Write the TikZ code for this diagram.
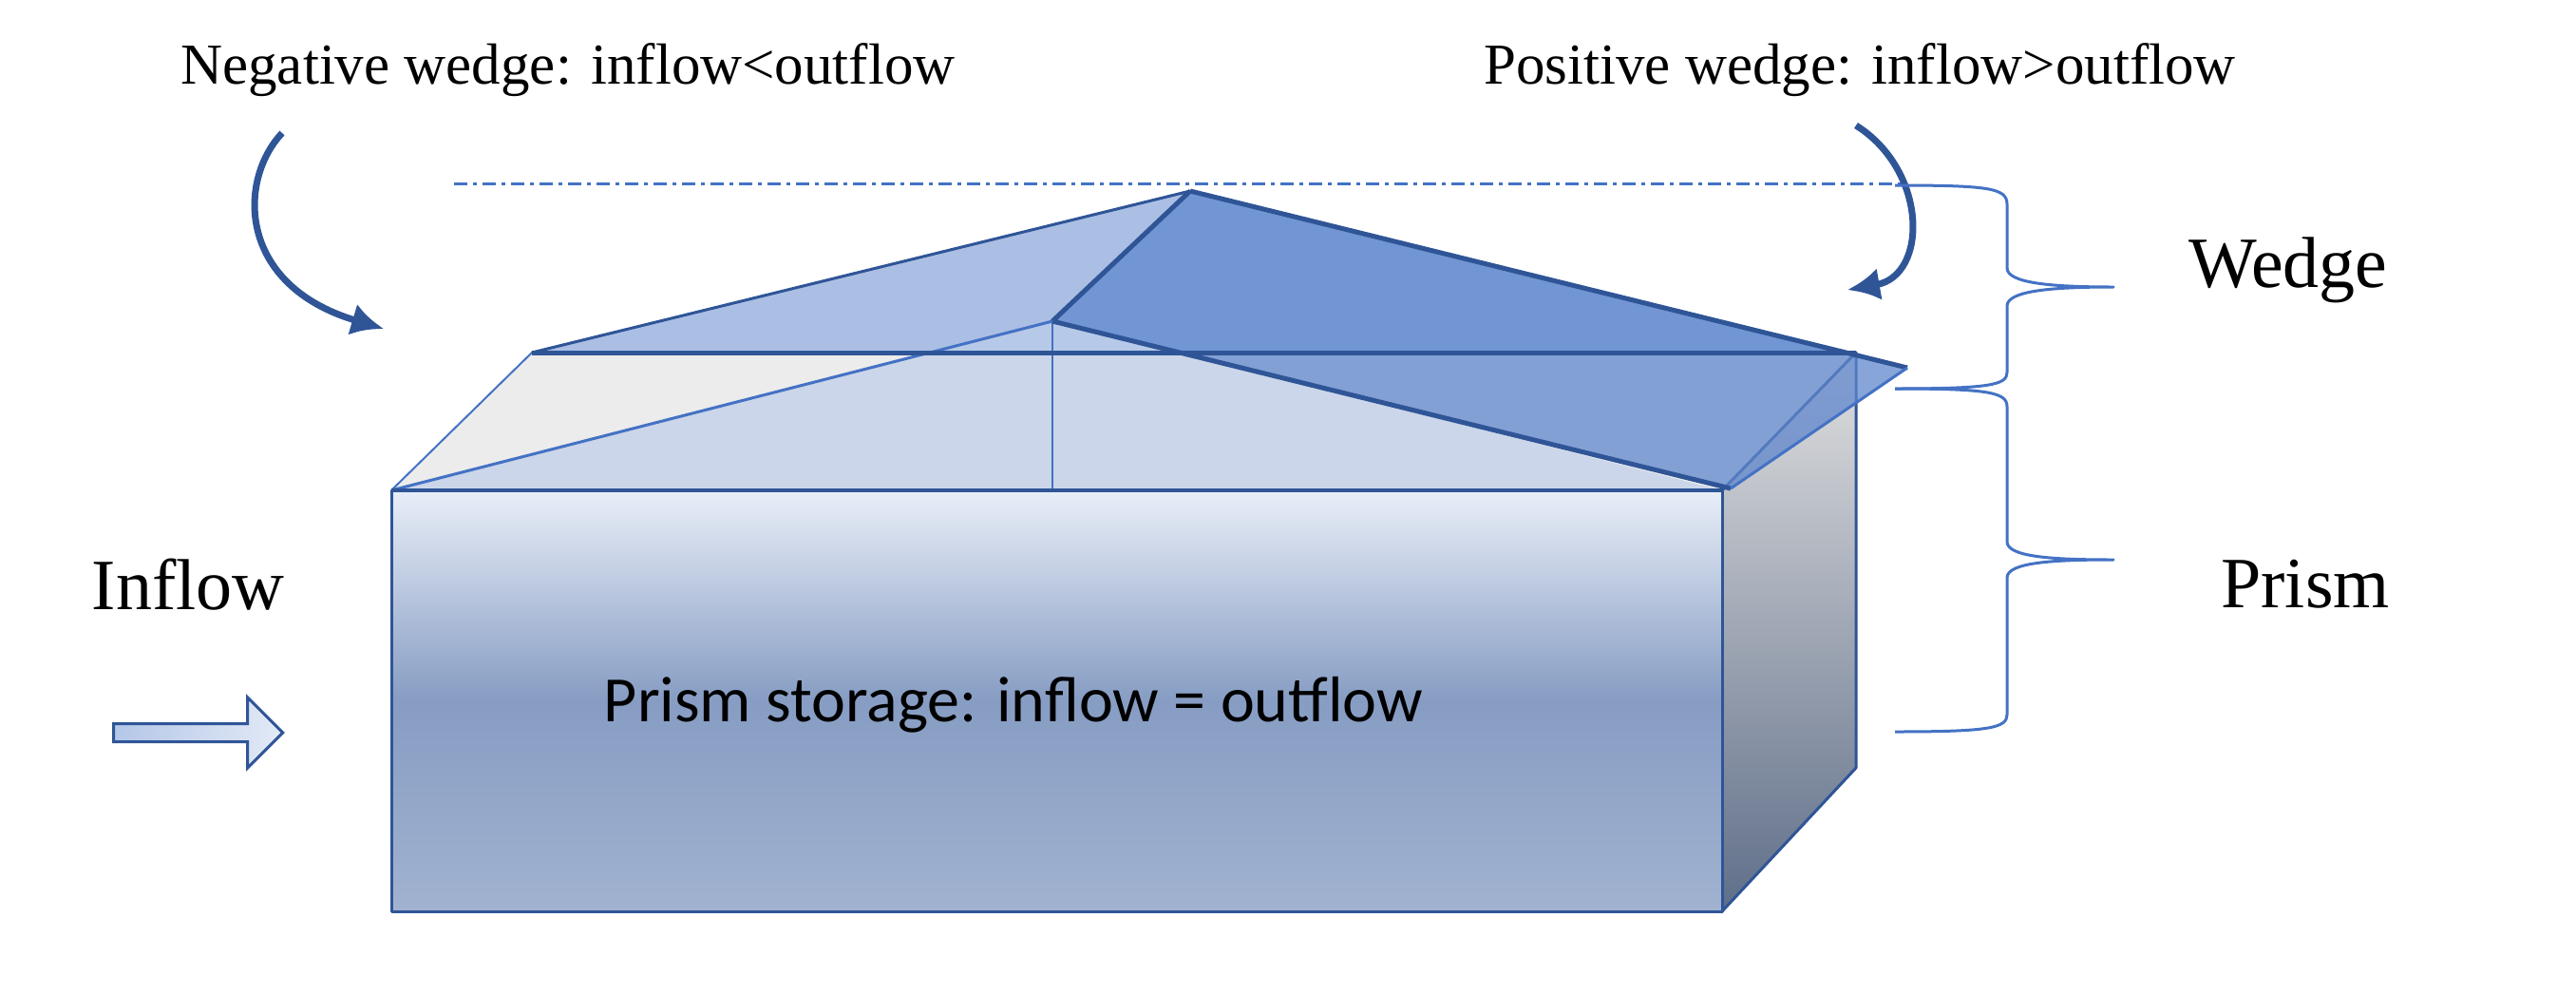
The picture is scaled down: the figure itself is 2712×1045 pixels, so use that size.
\documentclass[tikz,border=0pt]{standalone}
\usepackage{fontspec}
\setmainfont{Liberation Serif}
\newfontfamily\labelsans{Carlito}
\usetikzlibrary{shapes.arrows, arrows.meta}
\definecolor{edgeblue}{HTML}{2F5597}
\definecolor{lineblue}{HTML}{4472C4}
\begin{document}
\begin{tikzpicture}[x=1pt, y=-1pt,
  edge/.style={draw=edgeblue, line width=5pt, line join=round},
  thin/.style={draw=lineblue, line width=2pt},
  txt/.style={font=\fontsize{61}{65}\selectfont, inner sep=0pt},
  big/.style={font=\fontsize{76}{80}\selectfont, inner sep=0pt},
  turn/.style={draw=edgeblue, line width=7pt, -{Latex[length=34pt, width=34pt]}},
  brc/.style={draw=lineblue, line width=3pt, line join=round}]
  \useasboundingbox (0,0) rectangle (2712,1045);
  % corners of the prism
  \coordinate (fl) at (412,516);
  \coordinate (fr) at (1813,516);
  \coordinate (bl) at (560,371);
  \coordinate (br) at (1954,371);
  \coordinate (flb) at (412,959);
  \coordinate (frb) at (1813,959);
  \coordinate (brb) at (1954,808);
  % wedge points
  \coordinate (apex) at (1253,201);
  \coordinate (ridge) at (1108,338);
  \coordinate (tipr) at (2008,387);
  \coordinate (tipb) at (1822,514);
  % faces of the prism
  \shade[top color=white!88!lineblue, bottom color=white!55!edgeblue, middle color=white!42!edgeblue]
    (fl) rectangle (frb);
  \shade[top color=gray!25, bottom color=gray!60!edgeblue] (fr) -- (br) -- (brb) -- (frb) -- cycle;
  \fill[gray!15] (fl) -- (bl) -- (br) -- (fr) -- cycle;
  \draw[edge, line width=3pt] (fl) -- (fr) -- (frb) -- (flb) -- cycle;
  \draw[edge, line width=3pt] (fr) -- (br) -- (brb) -- (frb);
  \draw[thin] (fl) -- (bl) -- (br);
  % wedge
  \fill[lineblue!60, opacity=.75] (bl) -- (apex) -- (br) -- cycle;
  \fill[lineblue!35, opacity=.7] (fl) -- (ridge) -- (fr) -- cycle;
  \draw[thin] (ridge) -- (ridge |- fl);
  \draw[edge, line width=3pt] (bl) -- (apex);
  \fill[lineblue!85, opacity=.75] (apex) -- (ridge) -- (tipb) -- (tipr) -- cycle;
  \draw[edge] (apex) -- (ridge) -- (tipb);
  \draw[edge] (apex) -- (tipr);
  \draw[thin, line width=3pt] (tipb) -- (tipr) (fl) -- (ridge);
  \draw[edge] (bl) -- (br);
  \draw[edge, line width=4pt] (fl) -- (fr);
  % level line
  \draw[lineblue, line width=3pt, dash pattern=on 14pt off 6pt on 4pt off 6pt] (478,193) -- (2008,193);
  % curved arrows
  \coordinate (negS) at (297,140);
  \coordinate (negE) at (404,346);
  \coordinate (posS) at (1954,132);
  \coordinate (posE) at (1945,305);
  \draw[turn] (negS) .. controls (250,190) and (250,300) .. (negE);
  \draw[turn] (posS) .. controls (2030,180) and (2030,290) .. (posE);
  % braces
  \draw[brc] (1995,195) .. controls (2095,195) and (2113,198) .. (2113,215) -- (2113,282)
    .. controls (2113,298) and (2160,302) .. (2225,302)
    .. controls (2160,302) and (2113,306) .. (2113,322) -- (2113,392)
    .. controls (2113,405) and (2095,409) .. (1995,409);
  \draw[brc] (1995,409) .. controls (2095,409) and (2113,413) .. (2113,428) -- (2113,570)
    .. controls (2113,586) and (2160,589) .. (2225,589)
    .. controls (2160,589) and (2113,592) .. (2113,608) -- (2113,752)
    .. controls (2113,766) and (2095,770) .. (1995,770);
  % labels
  \node[txt] (neg) at (598,74) {Negative wedge: inflow<outflow};
  \node[txt] (pos) at (1958,74) {Positive wedge: inflow>outflow};
  \node[big] (wedge) at (2409,284) {Wedge};
  \node[big] (prism) at (2427,615) {Prism};
  \node[big] (inflow) at (198,615) {Inflow};
  \node[inner sep=0pt, font=\labelsans\fontsize{68}{72}\selectfont] (store) at (1067,742) {Prism storage: inflow = outflow};
  \node[single arrow, draw=edgeblue, line width=3pt, left color=white!60!lineblue, right color=white!85!lineblue,
    minimum width=74pt, minimum height=178pt, single arrow head extend=14pt] (inarrow) at (204,771) {};
\end{tikzpicture}
\end{document}
